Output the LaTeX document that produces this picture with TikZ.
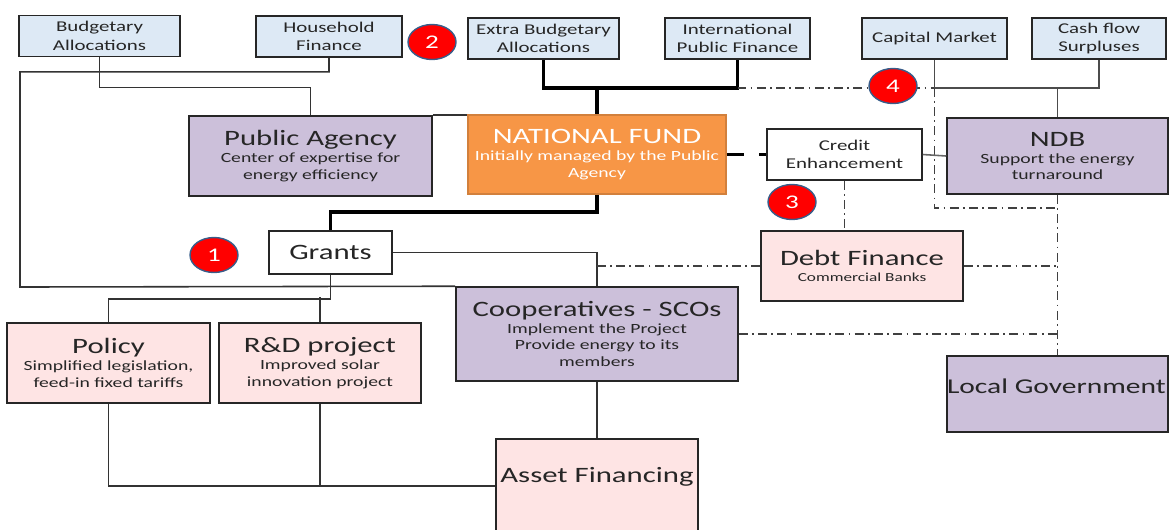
\documentclass[tikz,border=0pt]{standalone}
\usepackage{fontspec}
\setmainfont{Carlito}[FakeStretch=1.4]
\usepackage{tikz}
\usetikzlibrary{shapes.geometric}
\definecolor{cblue}{RGB}{221,233,245}
\definecolor{cpurple}{RGB}{204,192,218}
\definecolor{corange}{RGB}{247,150,70}
\definecolor{cpink}{RGB}{254,228,228}
\definecolor{cred}{RGB}{255,0,0}
\definecolor{cnavy}{RGB}{56,93,138}
\def\ttl#1{{\fontsize{12.5}{15}\selectfont #1}}

\begin{document}
\begin{tikzpicture}[x=0.02cm, y=-0.02cm,
    box/.style={draw=black!85, line width=0.9pt, align=center, inner sep=1pt,
      text=black!85, font=\fontsize{8}{9.5}\selectfont},
    source/.style={box, fill=cblue, minimum height=0.82cm, font=\fontsize{8.5}{10.5}\selectfont},
    actor/.style={box, fill=cpurple},
    usebox/.style={box, fill=cpink},
    badge/.style={ellipse, draw=cnavy, line width=0.8pt, fill=cred, text=white,
      minimum width=0.96cm, minimum height=0.70cm, inner sep=0pt, font=\fontsize{11}{11}\selectfont},
    link/.style={draw=black!80, line width=0.9pt},
    trunk/.style={draw=black, line width=2.2pt},
    dashdot/.style={draw=black!75, line width=1pt, dash pattern=on 5pt off 2.5pt on 1pt off 2.5pt},
  ]
  \useasboundingbox (0,0) rectangle (1170,529);

  % sources
  \node[source, minimum width=3.22cm] (budget) at (99.5,36) {Budgetary\\Allocations};
  \node[source, minimum width=2.92cm] (household) at (329,36.5) {Household\\Finance};
  \node[source, minimum width=3.02cm] (extrabud) at (543.5,38.5) {Extra Budgetary\\Allocations};
  \node[source, minimum width=2.90cm] (intl) at (737.5,38.5) {International\\Public Finance};
  \node[source, minimum width=2.90cm] (capmkt) at (934.5,38.5) {Capital Market};
  \node[source, minimum width=2.68cm] (cashflow) at (1099,38.5) {Cash flow\\Surpluses};

  % agencies and fund
  \node[actor, minimum width=4.86cm, minimum height=1.60cm] (agency) at (310.5,156)
    {\ttl{Public Agency}\\Center of expertise for\\energy efficiency};
  \node[box, fill=corange, draw=corange!85!black, text=white, minimum width=5.16cm, minimum height=1.58cm] (natfund) at (597,154.5)
    {\ttl{NATIONAL FUND}\\Initially managed by the Public\\Agency};
  \node[box, fill=white, minimum width=3.10cm, minimum height=1.02cm, font=\fontsize{8.5}{10.5}\selectfont] (credit) at (844.5,154.5)
    {Credit\\Enhancement};
  \node[actor, minimum width=4.42cm, minimum height=1.52cm] (ndb) at (1057.5,156)
    {\ttl{NDB}\\Support the energy\\turnaround};

  % uses
  \node[box, fill=white, minimum width=2.46cm, minimum height=0.86cm] (grants) at (330.5,252.5) {\ttl{Grants}};
  \node[usebox, minimum width=4.04cm, minimum height=1.40cm] (debt) at (862,266)
    {\ttl{Debt Finance}\\{\fontsize{7}{8}\selectfont Commercial Banks}};
  \node[actor, minimum width=5.64cm, minimum height=1.88cm] (coop) at (597,334)
    {\ttl{Cooperatives - SCOs}\\Implement the Project\\Provide energy to its\\members};
  \node[usebox, minimum width=4.06cm, minimum height=1.60cm] (policy) at (108.5,363)
    {\ttl{Policy}\\Simplified legislation,\\feed-in fixed tariffs};
  \node[usebox, minimum width=4.04cm, minimum height=1.60cm] (rnd) at (320,363)
    {\ttl{R\&D project}\\Improved solar\\innovation project};
  \node[usebox, minimum width=4.04cm, minimum height=1.88cm, text depth=0.45cm] (asset) at (597,486) {\ttl{Asset Financing}};
  \node[actor, minimum width=4.42cm, minimum height=1.52cm, inner xsep=0pt, text depth=0.3cm] (localgov) at (1057.5,394)
    {\makebox[4.42cm][l]{\fontsize{12}{14}\selectfont Local Government}};

  % source lines
  \coordinate (sw) at (20,287);
  \draw[link] (budget.south) -- ++(0,30) -| (agency.north);
  \draw[link] (household.south) -- ++(0,14) -| (sw) -- (coop.north west);
  \draw[trunk] (extrabud.south) -- ++(0,28) -| (intl.south);
  \draw[trunk] (natfund.north) -- ++(0,-28);
  \path (intl.south) ++(0,28) coordinate (intlhub);
  \path (capmkt.south) ++(0,28) coordinate (caphub);
  \draw[dashdot] (intlhub) -- (caphub);
  \draw[link, draw=black!70] (capmkt.south) -- (caphub) -| (cashflow.south);
  \draw[link, draw=black!70] (ndb.north) -- (ndb.north |- caphub);

  % dash-dot frame round ndb
  \draw[dashdot] (caphub) -- ++(0,120) coordinate (frame) -- (frame -| ndb.south);
  \draw[dashdot] (ndb.south) -- (localgov.north);
  \draw[dashdot] (debt.east) -- (debt.east -| ndb.south);
  \draw[dashdot] (coop.east) -- (coop.east -| ndb.south);

  % fund lines
  \draw[link] (agency.north east) -- (agency.north east -| natfund.west);
  \draw[trunk, dash pattern=on 10pt off 8.5pt] (natfund.east) -- (credit.west);
  \draw[link, draw=black!60] (credit.east) -- (ndb.west);
  \draw[dashdot] (credit.south) -- (credit.south |- debt.north);
  \draw[trunk] (natfund.south) -- ++(0,17) -| (grants.north);

  % grant lines
  \draw[link] (grants.east) -| (coop.north);
  \draw[dashdot] (debt.west) -- (debt.west -| coop.north);
  \draw[link] (grants.south) -- ++(0,24) -| (policy.north);
  \draw[link] (rnd.north) -- ++(0,-25);
  \draw[link] (policy.south) |- (asset.west);
  \draw[link] (rnd.south) -- (rnd.south |- asset.west);
  \draw[link] (coop.south) -- (asset.north);

  % numbers
  \node[badge] (n1) at (214,255) {1};
  \node[badge] (n2) at (432,42) {2};
  \node[badge] (n3) at (792,202) {3};
  \node[badge] (n4) at (893,86) {4};
\end{tikzpicture}
\end{document}
